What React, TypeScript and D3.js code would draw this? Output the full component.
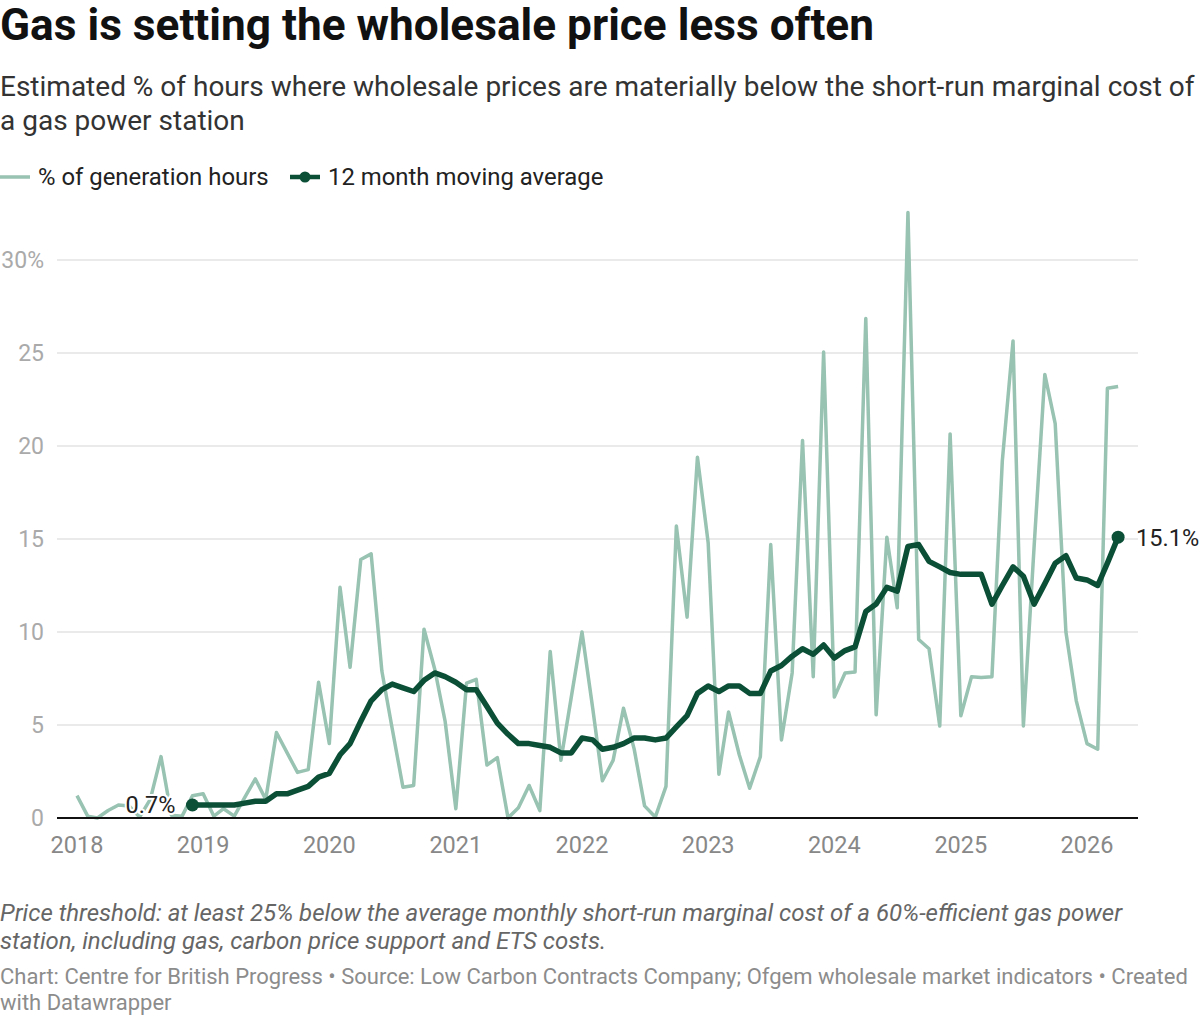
import * as d3 from 'd3';
import React from 'react';

// monthly series, Jan 2018 onwards
const startMonth = new Date(2018, 0, 1);

// % of generation hours, one value per month (Jan 2018 .. Apr 2026)
const hoursShare = [
  1.2, 0.1, 0.0, 0.4, 0.7, 0.65, 0.05, 1.0, 3.3, 0.15, 0.1, 1.2,
  1.3, 0.1, 0.5, 0.1, 1.1, 2.1, 1.0, 4.6, 3.5, 2.45, 2.6, 7.3,
  4.0, 12.4, 8.1, 13.9, 14.2, 7.9, 4.8, 1.65, 1.75, 10.15, 8.0, 5.2,
  0.5, 7.25, 7.45, 2.85, 3.25, 0.0, 0.55, 1.75, 0.4, 8.95, 3.1, 6.5,
  10.0, 5.9, 2.0, 3.1, 5.9, 3.7, 0.65, 0.05, 1.7, 15.7, 10.8, 19.4,
  14.8, 2.35, 5.7, 3.4, 1.6, 3.3, 14.7, 4.2, 7.8, 20.3, 7.6, 25.05,
  6.5, 7.8, 7.85, 26.85, 5.55, 15.1, 11.3, 32.55, 9.6, 9.1, 4.95, 20.65,
  5.5, 7.6, 7.55, 7.6, 19.2, 25.65, 4.95, 14.6, 23.85, 21.2, 10.0, 6.3,
  4.0, 3.7, 23.1, 23.2,
];

// 12 month moving average, first value is Dec 2018
const avgStart = 11;
const movingAvg = [
  0.7, 0.7, 0.7, 0.7, 0.7, 0.8, 0.9, 0.9, 1.3, 1.3, 1.5, 1.7, 2.2,
  2.4, 3.4, 4.0, 5.2, 6.3, 6.9, 7.2, 7.0, 6.8, 7.4, 7.8, 7.6,
  7.3, 6.9, 6.9, 6.0, 5.1, 4.5, 4.0, 4.0, 3.9, 3.8, 3.5, 3.5,
  4.3, 4.2, 3.7, 3.8, 4.0, 4.3, 4.3, 4.2, 4.3, 4.9, 5.5, 6.7,
  7.1, 6.8, 7.1, 7.1, 6.7, 6.7, 7.9, 8.2, 8.7, 9.1, 8.8, 9.3,
  8.6, 9.0, 9.2, 11.1, 11.5, 12.4, 12.2, 14.6, 14.7, 13.8, 13.5, 13.2,
  13.1, 13.1, 13.1, 11.5, 12.5, 13.5, 13.0, 11.5, 12.6, 13.7, 14.1, 12.9,
  12.8, 12.5, 13.7, 15.1,
];

const yTicks = [0, 5, 10, 15, 20, 25, 30];
const xYears = [2018, 2019, 2020, 2021, 2022, 2023, 2024, 2025, 2026];

const LIGHT = '#98c2b1';
const DARK = '#0b4f37';
const FONT = 'Roboto, "Noto Sans", sans-serif';

const W = 1200;
const H = 1016;

const m = { left: 57, right: 1138, top: 260, bottom: 818 };

export default function App() {
  const x = d3.scaleTime()
    .domain([new Date(2018, 0, 1), new Date(2026, 0, 1)])
    .range([77, 1087]);
  const y = d3.scaleLinear().domain([0, 30]).range([m.bottom, m.top]);

  const monthOf = (i: number) => d3.timeMonth.offset(startMonth, i);

  const light = hoursShare.map((v, i) => ({ d: monthOf(i), v }));
  const dark = movingAvg.map((v, i) => ({ d: monthOf(avgStart + i), v }));

  const line = d3.line<{ d: Date; v: number }>()
    .x(p => x(p.d))
    .y(p => y(p.v));

  const first = dark[0];
  const last = dark[dark.length - 1];

  return (
    <svg width={W} height={H} style={{ display: 'block', position: 'absolute', left: 0, top: 0, fontFamily: FONT }}>
      <rect width={W} height={H} fill="#fff" />

      <text x={0} y={40} fontSize={44.2} fontWeight={700} fill="#111">
        Gas is setting the wholesale price less often
      </text>
      <text fontSize={28} fill="#333">
        <tspan x={0} y={96}>Estimated % of hours where wholesale prices are materially below the short-run marginal cost of</tspan>
        <tspan x={0} y={130}>a gas power station</tspan>
      </text>

      {/* legend */}
      <g fontSize={23.9} fill="#222">
        <line x1={0} x2={30} y1={177} y2={177} stroke={LIGHT} strokeWidth={3.5} />
        <text x={38} y={185}>% of generation hours</text>
        <line x1={290} x2={320} y1={177} y2={177} stroke={DARK} strokeWidth={4.5} />
        <circle cx={305} cy={177} r={5.5} fill={DARK} />
        <text x={328} y={185}>12 month moving average</text>
      </g>

      {/* grid + y labels */}
      {yTicks.map(t => (
        <g key={t}>
          {t > 0 && (
            <line x1={m.left} x2={m.right} y1={y(t)} y2={y(t)} stroke="#e3e3e3" strokeWidth={1.5} />
          )}
          <text x={44} y={y(t)} dy="0.36em" textAnchor="end" fontSize={23} fill="#aaa">
            {t === 30 ? '30%' : t}
          </text>
        </g>
      ))}

      {xYears.map(yr => (
        <text key={yr} x={x(new Date(yr, 0, 1))} y={853} textAnchor="middle" fontSize={23.5} fill="#888">
          {yr}
        </text>
      ))}

      <path d={line(light) ?? ''} fill="none" stroke={LIGHT} strokeWidth={3.5} strokeLinejoin="round" />

      <line x1={m.left} x2={m.right} y1={m.bottom} y2={m.bottom} stroke="#111" strokeWidth={2} />

      <path d={line(dark) ?? ''} fill="none" stroke={DARK} strokeWidth={5.5} strokeLinejoin="round" />
      <circle cx={x(first.d)} cy={y(first.v)} r={6.5} fill={DARK} />
      <circle cx={x(last.d)} cy={y(last.v)} r={6.5} fill={DARK} />

      <g fontSize={23.5} fill="#222">
        <text x={x(first.d) - 17} y={y(first.v)} dy="0.36em" textAnchor="end"
          stroke="#fff" strokeWidth={4} paintOrder="stroke">
          {first.v.toFixed(1)}%
        </text>
        <text x={x(last.d) + 18} y={y(last.v)} dy="0.36em"
          stroke="#fff" strokeWidth={4} paintOrder="stroke">
          {last.v.toFixed(1)}%
        </text>
      </g>

      <text fontSize={24} fontStyle="italic" fill="#666">
        <tspan x={0} y={921}>Price threshold: at least 25% below the average monthly short-run marginal cost of a 60%-efficient gas power</tspan>
        <tspan x={0} y={949}>station, including gas, carbon price support and ETS costs.</tspan>
      </text>
      <text fontSize={22} fill="#8c8c8c">
        <tspan x={0} y={984}>Chart: Centre for British Progress • Source: Low Carbon Contracts Company; Ofgem wholesale market indicators • Created</tspan>
        <tspan x={0} y={1010}>with Datawrapper</tspan>
      </text>
    </svg>
  );
}
